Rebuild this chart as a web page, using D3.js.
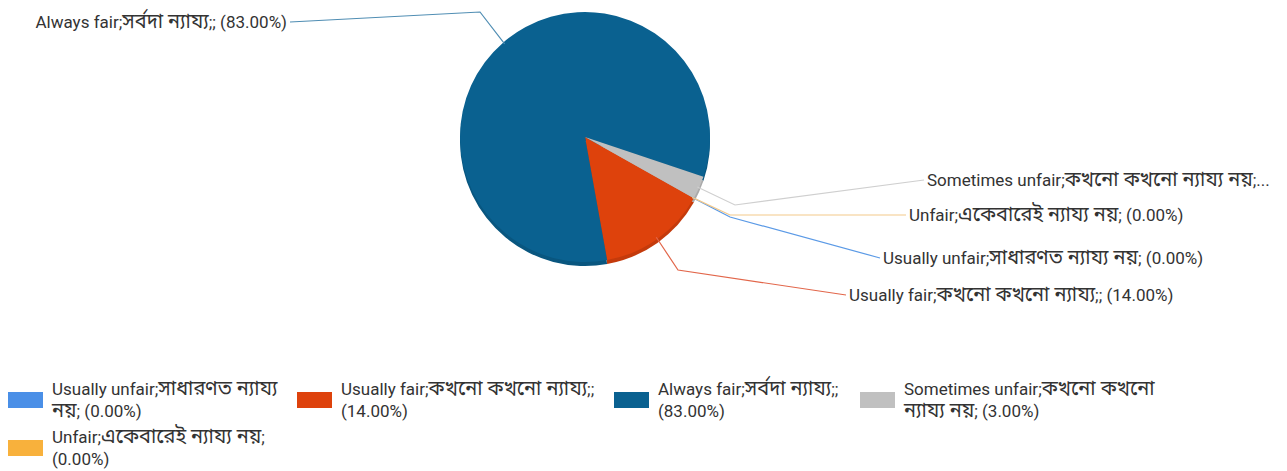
<!DOCTYPE html>
<html lang="en">
<head>
    <meta charset="UTF-8">
    <title>Fairness pie</title>
    <script src="https://d3js.org/d3.v7.min.js"></script>
    <style>
        body { margin: 0; background: #fff; }
        text { font-family: Roboto, "Noto Sans", "Noto Sans Bengali", sans-serif; fill: #333; }
    </style>
</head>
<body>
    <script>
        // data (legend order = drawing order, clockwise)
        const categories = [
            "Usually unfair;সাধারণত ন্যায্য নয়;",
            "Usually fair;কখনো কখনো ন্যায্য;;",
            "Always fair;সর্বদা ন্যায্য;;",
            "Sometimes unfair;কখনো কখনো ন্যায্য নয়;",
            "Unfair;একেবারেই ন্যায্য নয়;"
        ];
        const values = [0, 14, 83, 3, 0];
        const colors = ["#4a8fe7", "#de420c", "#0a6190", "#c0c0c0", "#f8b13c"];
        const lineColors = ["#5b9ae6", "#e2664a", "#4f8db3", "#cfcfcf", "#f4c98a"];
        // label text next to the pie (Sometimes unfair is cut off in the original)
        const pieLabels = [
            "Usually unfair;সাধারণত ন্যায্য নয়; (0.00%)",
            "Usually fair;কখনো কখনো ন্যায্য;; (14.00%)",
            "Always fair;সর্বদা ন্যায্য;; (83.00%)",
            "Sometimes unfair;কখনো কখনো ন্যায্য নয়;...",
            "Unfair;একেবারেই ন্যায্য নয়; (0.00%)"
        ];
        // wrapped legend lines
        const legendLines = [
            ["Usually unfair;সাধারণত ন্যায্য", "নয়; (0.00%)"],
            ["Usually fair;কখনো কখনো ন্যায্য;;", "(14.00%)"],
            ["Always fair;সর্বদা ন্যায্য;;", "(83.00%)"],
            ["Sometimes unfair;কখনো কখনো", "ন্যায্য নয়; (3.00%)"],
            ["Unfair;একেবারেই ন্যায্য নয়;", "(0.00%)"]
        ];

        const width = 1287, height = 471;
        const cx = 585, cy = 137, r = 125, depth = 4;

        const svg = d3.select("body").append("svg")
            .attr("width", width).attr("height", height);

        const start = 119.4 * Math.PI / 180;
        const pie = d3.pie().sort(null).startAngle(start).endAngle(start + 2 * Math.PI);
        const arcs = pie(values);
        const arc = d3.arc().innerRadius(0).outerRadius(r);

        // 3D edge
        svg.append("g").attr("transform", `translate(${cx},${cy + depth})`)
            .selectAll("path").data(arcs).enter().append("path")
            .attr("d", arc)
            .attr("fill", (d, i) => d3.color(colors[i]).darker(0.35));

        svg.append("g").attr("transform", `translate(${cx},${cy})`)
            .selectAll("path").data(arcs).enter().append("path")
            .attr("d", arc)
            .attr("fill", (d, i) => colors[i]);

        // Bengali runs are drawn a bit larger, like the wide font in the original
        function addRuns(sel, str) {
            str.split(/([\u0980-\u09FF]+(?: [\u0980-\u09FF]+)*)/).forEach(part => {
                if (!part) return;
                const bn = /[\u0980-\u09FF]/.test(part);
                sel.append("tspan").attr("font-size", bn ? "20px" : "17px").text(part);
            });
        }

        // label layout: elbow point and text anchor
        const labelLayout = [
            { elbow: [730, 217], end: [880, 258], anchor: "start" },
            { elbow: [678, 270], end: [846, 295], anchor: "start" },
            { elbow: [480, 12], end: [290, 22], anchor: "end" },
            { elbow: [735, 205], end: [924, 180], anchor: "start" },
            { elbow: [730, 215], end: [906, 215], anchor: "start" }
        ];

        const outer = d3.arc().innerRadius(r - 2).outerRadius(r - 2);
        const lg = svg.append("g");
        arcs.forEach((d, i) => {
            const p = outer.centroid(d);
            const p0 = [cx + p[0], cy + p[1]];
            const L = labelLayout[i];
            lg.append("polyline")
                .attr("points", [p0, L.elbow, L.end].map(q => q.join(",")).join(" "))
                .attr("fill", "none")
                .attr("stroke", lineColors[i])
                .attr("stroke-width", 1.2);
            const t = lg.append("text")
                .attr("x", L.end[0] + (L.anchor === "start" ? 3 : -3))
                .attr("y", L.end[1] + 6)
                .attr("text-anchor", L.anchor);
            addRuns(t, pieLabels[i]);
        });

        // legend
        const legendPos = [[8, 392], [297, 392], [614, 392], [860, 392], [8, 440]];
        const leg = svg.append("g");
        categories.forEach((c, i) => {
            const [x, y] = legendPos[i];
            leg.append("rect")
                .attr("x", x).attr("y", y)
                .attr("width", 35).attr("height", 16)
                .attr("fill", colors[i]);
            legendLines[i].forEach((ln, k) => {
                const t = leg.append("text")
                    .attr("x", x + 44).attr("y", y + 3 + k * 22);
                addRuns(t, ln);
            });
        });
    </script>
</body>
</html>
